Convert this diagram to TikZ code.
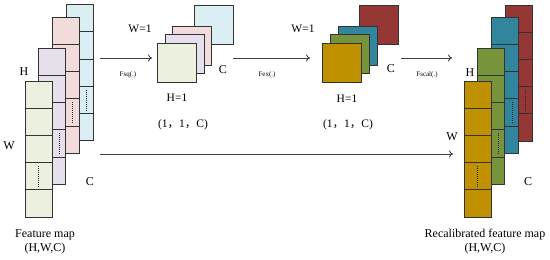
\documentclass[tikz,border=0pt]{standalone}
\usepackage{fontspec}
\setmainfont{Liberation Serif}
\newfontfamily\cjkfont{Noto Sans CJK SC}
\usetikzlibrary{arrows.meta}
\definecolor{lgreen}{HTML}{EBF1DE}
\definecolor{llav}{HTML}{E5E0EC}
\definecolor{lpink}{HTML}{F2DCDB}
\definecolor{lblue}{HTML}{DBEEF4}
\definecolor{dgold}{HTML}{BF9000}
\definecolor{dolive}{HTML}{77933C}
\definecolor{dteal}{HTML}{31859C}
\definecolor{dred}{HTML}{953735}
\newcommand{\featcol}[5]{% name, x, y, colour, dash x
  \foreach \k in {0,...,4}{
    \node[cellbox, fill=#4] (#1-\k) at (#2, {#3+\k*27.2}) {};
  }
  \draw[dotline] (#5, {#3+3*27.2+3.5}) -- (#5, {#3+4*27.2-3.5});
}
\begin{document}
\begin{tikzpicture}[x=1pt,y=-1pt,
  cellbox/.style={draw=black!80, line width=0.9pt, minimum width=27pt, minimum height=27.2pt, inner sep=0pt, outer sep=0pt, anchor=north west},
  sqbox/.style={draw=black!80, line width=0.9pt, minimum width=39pt, minimum height=39pt, inner sep=0pt, outer sep=0pt, anchor=north west},
  dotline/.style={line width=0.8pt, dash pattern=on 1pt off 1pt, black!85},
  flow/.style={draw=black!75, line width=0.9pt, -{To[length=4pt,width=7pt]}},
  lbl/.style={font=\fontsize{12}{14}\selectfont, inner sep=0pt},
  dlbl/.style={font=\fontsize{11.5}{13}\selectfont, inner sep=0pt},
  small/.style={font=\fontsize{7}{8}\selectfont, inner sep=0pt}]
\useasboundingbox (0,0) rectangle (550,260);
% left feature map
\featcol{lb}{66}{4.7}{lblue}{86}
\featcol{lp}{52.3}{17.3}{lpink}{72.6}
\featcol{ll}{38.7}{48.3}{llav}{59.2}
\featcol{lg}{25.3}{81}{lgreen}{38.8}
\node[lbl] (lH) at (24,72) {H};
\node[lbl] (lW) at (9,146) {W};
\node[lbl] (lC) at (90,182) {C};
\node[lbl] (lt1) at (45,235) {Feature map};
\node[lbl] (lt2) at (45,249) {(H,W,C)};
% squeeze result
\node[sqbox, fill=lblue] (s1) at (194,5) {};
\node[sqbox, fill=lpink] (s2) at (172.7,26.7) {};
\node[sqbox, fill=llav] (s3) at (165,34.3) {};
\node[sqbox, fill=lgreen] (s4) at (157.3,43.3) {};
\node[dlbl] (sW) at (140,29) {W=1};
\node[dlbl] (sH) at (177,98) {H=1};
\node[lbl] (sC) at (223,70) {C};
\node[dlbl] (sd) at (183,125) {(1{\cjkfont ，}1{\cjkfont ，}C)};
% excitation result
\node[sqbox, fill=dred] (e1) at (359,5) {};
\node[sqbox, fill=dteal] (e2) at (338.3,26.7) {};
\node[sqbox, fill=dolive] (e3) at (330,34.3) {};
\node[sqbox, fill=dgold] (e4) at (322.3,43.3) {};
\node[dlbl] (eW) at (303,29) {W=1};
\node[dlbl] (eH) at (347,99) {H=1};
\node[lbl] (eC) at (391,69) {C};
\node[dlbl] (ed) at (348,125) {(1{\cjkfont ，}1{\cjkfont ，}C)};
% right feature map
\featcol{rr}{505.7}{5}{dred}{525.7}
\featcol{rt}{491.7}{17.3}{dteal}{512}
\featcol{ro}{477.7}{48.3}{dolive}{498.3}
\featcol{rg}{464}{81}{dgold}{477.8}
\node[lbl] (rH) at (470,73) {H};
\node[lbl] (rW) at (452,137) {W};
\node[lbl] (rC) at (528,182) {C};
\node[lbl] (rt1) at (485,235) {Recalibrated feature map};
\node[lbl] (rt2) at (485,249) {(H,W,C)};
% connectors
\coordinate (a1) at (100,58);
\coordinate (a2) at (152,58);
\coordinate (b1) at (233,58);
\coordinate (b2) at (310,58);
\coordinate (c1) at (401,58);
\coordinate (c2) at (452,58);
\coordinate (d1) at (100,154);
\coordinate (d2) at (453,154);
\draw[flow] (a1) -- (a2);
\draw[flow] (b1) -- (b2);
\draw[flow] (c1) -- (c2);
\draw[flow] (d1) -- (d2);
\node[small] (fsq) at (128,75) {Fsq(.)};
\node[small] (fex) at (267,75) {Fex(.)};
\node[small] (fsc) at (427,75) {Fscal(.)};
\end{tikzpicture}
\end{document}
